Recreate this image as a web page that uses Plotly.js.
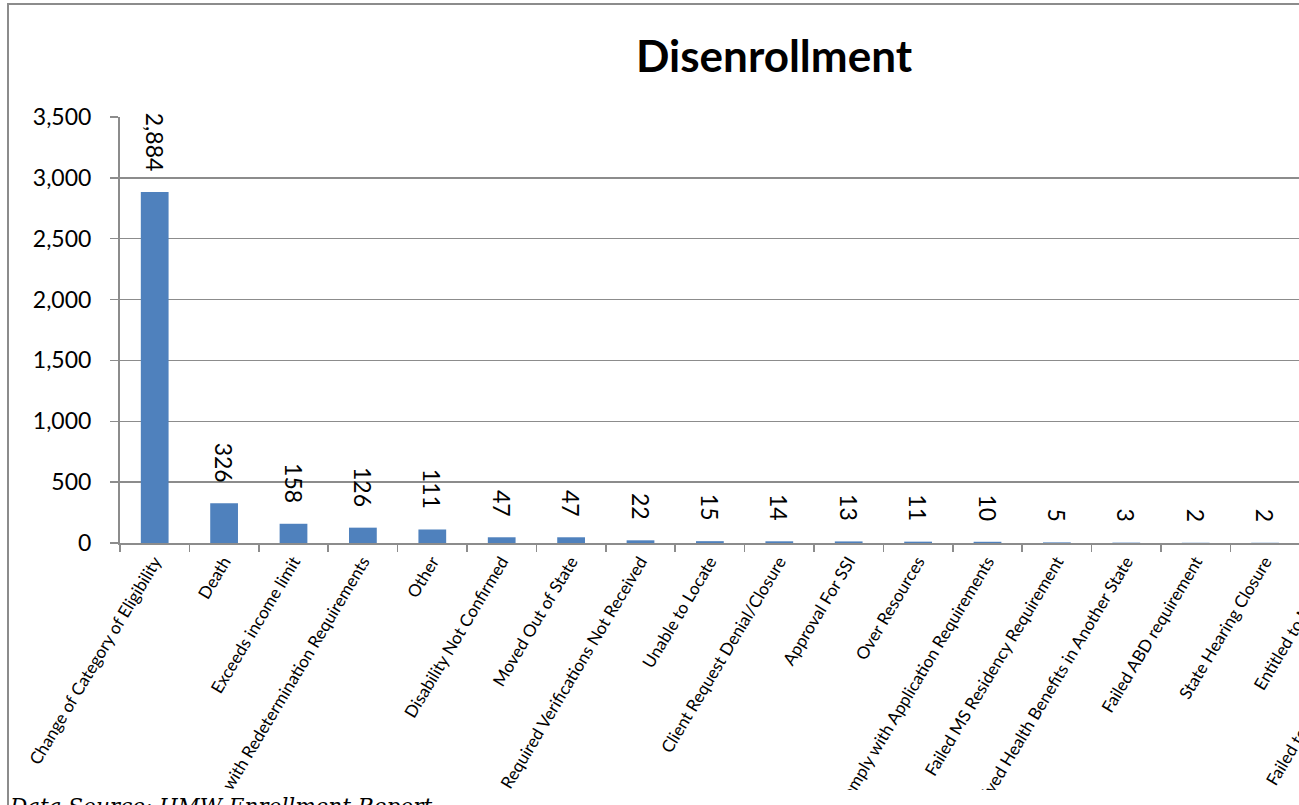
<!DOCTYPE html>
<html>
<head>
<meta charset="utf-8">
<script src="https://cdn.plot.ly/plotly-3.0.1.min.js"></script>
<style>
  html, body { margin: 0; padding: 0; background: #ffffff; overflow: hidden; width: 1299px; height: 805px; }
  #box { position: absolute; left: 7px; top: 3px; width: 1540px; height: 900px;
         border-top: 2px solid #8c8c8c; border-left: 2px solid #8c8c8c; overflow: hidden; }
  #chart { position: absolute; left: 0; top: 0; width: 1530px; height: 785px; overflow: hidden; }
  #footer { position: absolute; left: 10px; top: 794px; font-family: "DejaVu Serif", serif;
            font-style: italic; font-size: 21.5px; color: #000; white-space: nowrap; }
</style>
</head>
<body>
<div id="box"><div id="chart"></div></div>
<div id="footer">Data Source: HMW Enrollment Report</div>
<script>
const categories = [
  "Change of Category of Eligibility",
  "Death",
  "Exceeds income limit",
  "Failed to Comply with Redetermination Requirements",
  "Other",
  "Disability Not Confirmed",
  "Moved Out of State",
  "Required Verifications Not Received",
  "Unable to Locate",
  "Client Request Denial/Closure",
  "Approval For SSI",
  "Over Resources",
  "Failed to Comply with Application Requirements",
  "Failed MS Residency Requirement",
  "Received Health Benefits in Another State",
  "Failed ABD requirement",
  "State Hearing Closure",
  "Entitled to Medicare",
  "Failed to Verify Citizenship/Identity",
  "Incarcerated"
];
const disenrolled = [2884, 326, 158, 126, 111, 47, 47, 22, 15, 14, 13, 11, 10, 5, 3, 2, 2, 1, 1, 1];
const yTickValues = [0, 500, 1000, 1500, 2000, 2500, 3000, 3500];
const yTickLabels = ["0", "500", "1,000", "1,500", "2,000", "2,500", "3,000", "3,500"];

const trace = {
  type: "bar",
  x: categories,
  y: disenrolled,
  marker: { color: "#4f81bd" },
  texttemplate: "%{y:,}\u00a0\u00a0\u00a0",
  textposition: "outside",
  textangle: 90,
  constraintext: "none",
  cliponaxis: false,
  textfont: { family: "Lato, 'Open Sans', sans-serif", size: 23, color: "#000000" },
  hoverinfo: "x+y"
};

const layout = {
  width: 1530,
  height: 785,
  margin: { l: 111, r: 31, t: 112, b: 247 },
  paper_bgcolor: "#ffffff",
  plot_bgcolor: "#ffffff",
  showlegend: false,
  bargap: 0.6,
  title: {
    text: "<b>Disenrollment</b>",
    x: 0.5, xref: "container", xanchor: "center",
    y: 0.934, yref: "container", yanchor: "middle",
    font: { family: "Lato, 'Open Sans', sans-serif", size: 44, color: "#000000" }
  },
  xaxis: {
    type: "category",
    tickson: "boundaries",
    ticks: "outside",
    ticklen: 7,
    tickwidth: 1.5,
    tickcolor: "#8c8c8c",
    showline: true,
    linecolor: "#8c8c8c",
    linewidth: 2,
    showgrid: false,
    tickangle: -59,
    automargin: false,
    tickfont: { family: "Lato, 'Open Sans', sans-serif", size: 17, color: "#000000" }
  },
  yaxis: {
    range: [0, 3500],
    tickvals: yTickValues,
    ticktext: yTickLabels,
    ticks: "outside",
    ticklen: 8,
    tickwidth: 1.5,
    tickcolor: "#8c8c8c",
    showline: true,
    linecolor: "#8c8c8c",
    linewidth: 2,
    showgrid: true,
    gridcolor: "#8c8c8c",
    gridwidth: 1.5,
    zeroline: false,
    automargin: false,
    ticklabelstandoff: 14,
    tickfont: { family: "Lato, 'Open Sans', sans-serif", size: 23, color: "#000000" }
  }
};

Plotly.newPlot("chart", [trace], layout, { displayModeBar: false, staticPlot: true });
</script>
</body>
</html>
